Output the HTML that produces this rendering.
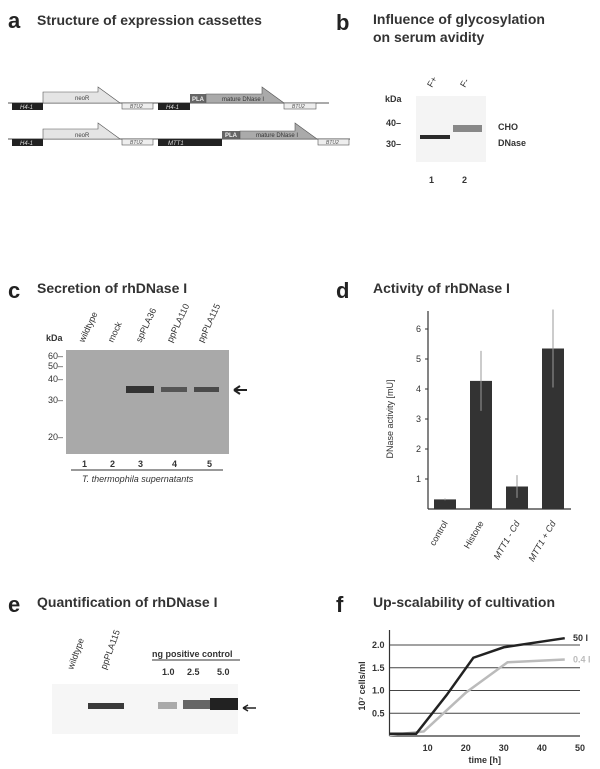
<!DOCTYPE html>
<html><head><meta charset="utf-8"><style>
body{margin:0;background:#fff}
svg{display:block;font-family:"Liberation Sans",sans-serif}
.t{font-weight:bold;font-size:14px;fill:#333}
.L{font-weight:bold;font-size:22px;fill:#222}
.s{font-size:9px;fill:#333}
.b{font-size:9px;font-weight:bold;fill:#333}
</style></head><body>
<svg width="600" height="769" viewBox="0 0 600 769">
<!-- Panel a -->
<g>
<text x="8" y="28" class="L">a</text>
<text x="37" y="25" class="t">Structure of expression cassettes</text>
<line x1="8" y1="103" x2="329" y2="103" stroke="#555"/>
<rect x="12" y="103" width="31" height="7" fill="#222"/><text x="20" y="109" fill="#ddd" font-size="6" font-style="italic">H4-1</text>
<path d="M43 103V92H98V87L120 103Z" fill="#e4e4e4" stroke="#555" stroke-width=".6"/><text x="75" y="100" font-size="6" fill="#444">neoR</text>
<rect x="122" y="103" width="31" height="6" fill="#eee" stroke="#555" stroke-width=".6"/><text x="130" y="108" font-size="5" font-style="italic" fill="#555">BTU2</text>
<rect x="158" y="103" width="32" height="7" fill="#222"/><text x="166" y="109" fill="#ddd" font-size="6" font-style="italic">H4-1</text>
<rect x="190" y="94" width="16" height="9" fill="#666"/><text x="192" y="101" font-size="6" font-weight="bold" fill="#eee">PLA</text>
<path d="M206 103V94H262V87L284 103Z" fill="#aaa" stroke="#555" stroke-width=".6"/><text x="222" y="101" font-size="6" fill="#333">mature DNase I</text>
<rect x="284" y="103" width="32" height="6" fill="#eee" stroke="#555" stroke-width=".6"/><text x="292" y="108" font-size="5" font-style="italic" fill="#555">BTU2</text>
<line x1="8" y1="139" x2="350" y2="139" stroke="#555"/>
<rect x="12" y="139" width="31" height="7" fill="#222"/><text x="20" y="145" fill="#ddd" font-size="6" font-style="italic">H4-1</text>
<path d="M43 139V129H98V123L120 139Z" fill="#e4e4e4" stroke="#555" stroke-width=".6"/><text x="75" y="137" font-size="6" fill="#444">neoR</text>
<rect x="122" y="139" width="31" height="6" fill="#eee" stroke="#555" stroke-width=".6"/><text x="130" y="144" font-size="5" font-style="italic" fill="#555">BTU2</text>
<rect x="158" y="139" width="64" height="7" fill="#222"/><text x="168" y="145" fill="#ddd" font-size="6" font-style="italic">MTT1</text>
<rect x="222" y="131" width="18" height="8" fill="#666"/><text x="225" y="137" font-size="6" font-weight="bold" fill="#eee">PLA</text>
<path d="M240 139V131H295V123L317 139Z" fill="#aaa" stroke="#555" stroke-width=".6"/><text x="256" y="137" font-size="6" fill="#333">mature DNase I</text>
<rect x="318" y="139" width="31" height="6" fill="#eee" stroke="#555" stroke-width=".6"/><text x="326" y="144" font-size="5" font-style="italic" fill="#555">BTU2</text>
</g>
<!-- Panel b -->
<g>
<text x="336" y="30" class="L">b</text>
<text x="373" y="24" class="t">Influence of glycosylation</text>
<text x="373" y="42" class="t">on serum avidity</text>
<rect x="416" y="96" width="70" height="66" fill="#f4f4f4"/>
<rect x="420" y="135" width="30" height="4" fill="#2a2a2a"/>
<rect x="453" y="125" width="29" height="7" fill="#888"/>
<text x="385" y="102" class="b">kDa</text>
<text x="386" y="126" class="b">40–</text><text x="386" y="147" class="b">30–</text>
<text x="498" y="130" class="b" font-size="10">CHO</text><text x="498" y="146" class="b" font-size="10">DNase</text>
<text x="429" y="183" class="b">1</text><text x="462" y="183" class="b">2</text>
<text transform="translate(432,88) rotate(-60)" class="s">F+</text>
<text transform="translate(465,88) rotate(-60)" class="s">F-</text>
</g>
<!-- Panel c -->
<g>
<text x="8" y="298" class="L">c</text>
<text x="37" y="293" class="t">Secretion of rhDNase I</text>
<rect x="66" y="350" width="163" height="104" fill="#a9a9a9"/>
<rect x="126" y="386" width="28" height="7" fill="#333"/>
<rect x="161" y="387" width="26" height="5" fill="#555"/>
<rect x="194" y="387" width="25" height="5" fill="#4a4a4a"/>
<text x="46" y="341" class="b">kDa</text>
<g class="s" font-size="9"><text x="48" y="359" class="s">60–</text><text x="48" y="369" class="s">50–</text><text x="48" y="382" class="s">40–</text><text x="48" y="403" class="s">30–</text><text x="48" y="440" class="s">20–</text></g>
<path d="M234 390H247M234 390L240 386M234 390L240 394" stroke="#222" stroke-width="2" fill="none"/>
<text x="82" y="467" class="b">1</text><text x="110" y="467" class="b">2</text><text x="138" y="467" class="b">3</text><text x="172" y="467" class="b">4</text><text x="207" y="467" class="b">5</text>
<line x1="71" y1="470" x2="223" y2="470" stroke="#333"/>
<text x="82" y="482" class="s" font-style="italic">T. thermophila supernatants</text>
<text transform="translate(84,343) rotate(-65)" class="s">wildtype</text>
<text transform="translate(113,343) rotate(-65)" class="s">mock</text>
<text transform="translate(141,343) rotate(-65)" class="s">spPLA36</text>
<text transform="translate(172,343) rotate(-65)" class="s">ppPLA110</text>
<text transform="translate(203,343) rotate(-65)" class="s">ppPLA115</text>
</g>
<!-- Panel d -->
<g>
<text x="336" y="298" class="L">d</text>
<text x="373" y="293" class="t">Activity of rhDNase I</text>
<g id="dchart"></g>
</g>
<!-- Panel e -->
<g>
<text x="8" y="612" class="L">e</text>
<text x="37" y="607" class="t">Quantification of rhDNase I</text>
<rect x="52" y="684" width="186" height="50" fill="#f6f6f6"/>
<rect x="88" y="703" width="36" height="6" fill="#3a3a3a"/>
<rect x="158" y="702" width="19" height="7" fill="#aaa"/>
<rect x="183" y="700" width="27" height="9" fill="#666"/>
<rect x="210" y="698" width="28" height="12" fill="#222"/>
<path d="M243 708H256M243 708L248 705M243 708L248 711" stroke="#222" stroke-width="1.5" fill="none"/>
<text x="152" y="657" class="b">ng positive control</text>
<line x1="152" y1="660" x2="240" y2="660" stroke="#333"/>
<text x="162" y="675" class="b">1.0</text><text x="187" y="675" class="b">2.5</text><text x="217" y="675" class="b">5.0</text>
<text transform="translate(73,670) rotate(-70)" class="s">wildtype</text>
<text transform="translate(106,670) rotate(-70)" class="s">ppPLA115</text>
</g>
<!-- Panel f -->
<g>
<text x="336" y="612" class="L">f</text>
<text x="373" y="607" class="t">Up-scalability of cultivation</text>
<g id="fchart"></g>
</g>
</svg>
<script>
const NS='http://www.w3.org/2000/svg';
function mk(p,tag,attrs,txt){const e=document.createElementNS(NS,tag);for(const k in attrs)e.setAttribute(k,attrs[k]);if(txt!==undefined)e.textContent=txt;p.appendChild(e);return e;}
// ---- Panel d data ----
const dCategories=['control','Histone','MTT1 - Cd','MTT1 + Cd'];
const dValues=[0.32,4.27,0.75,5.35];
const dErrors=[0.03,1.0,0.38,1.3];
const dTicks=[1,2,3,4,5,6];
const dg=document.getElementById('dchart');
const dx0=428,dy0=509,dsc=30;
function dy(v){return dy0-v*dsc;}
function dxc(i){return 445+i*36;}
const ya=mk(dg,'line',{x1:dx0,y1:dy(6.6),x2:dx0,y2:dy0,stroke:'#333','stroke-width':1.2});

const xa=mk(dg,'line',{x1:dx0,y1:dy0,x2:571,y2:dy0,stroke:'#333','stroke-width':1.2});

dTicks.forEach(t=>{mk(dg,'line',{x1:dx0-3,y1:dy(t),x2:dx0,y2:dy(t),stroke:'#333'});
const tl=mk(dg,'text',{x:dx0-7,y:dy(t)+3,'text-anchor':'end','class':'s'},t);
});
const yt=mk(dg,'text',{transform:'translate(393,'+dy(3)+') rotate(-90)','text-anchor':'middle','class':'s'},'DNase activity [mU]');

dCategories.forEach((c,i)=>{
 const b=mk(dg,'rect',{x:dxc(i)-11,y:dy(dValues[i]),width:22,height:dValues[i]*dsc,fill:'#333'});
 
 const e=mk(dg,'line',{x1:dxc(i),y1:dy(dValues[i]-dErrors[i]),x2:dxc(i),y2:dy(dValues[i]+dErrors[i]),stroke:'#999','stroke-width':1});
 
 const l=mk(dg,'text',{transform:'translate('+(dxc(i)+3)+','+(dy0+14)+') rotate(-60)','text-anchor':'end','class':'s','font-style':i>1?'italic':'normal'},c);
 
});
// ---- Panel f data ----
const fTime50=[0,7,15,22,30,46];
const fCells50=[0.05,0.05,0.9,1.72,1.95,2.15];
const fTime04=[0,9,20,29,31,46];
const fCells04=[0.02,0.1,0.95,1.5,1.62,1.68];
const fYTicks=[0.5,1.0,1.5,2.0];
const fXTicks=[10,20,30,40,50];
const fg=document.getElementById('fchart');
function fx(t){return 389.5+t*3.81;}
function fy(v){return 736-v*45.5;}
fYTicks.forEach(t=>{mk(fg,'line',{x1:fx(0),y1:fy(t),x2:fx(50),y2:fy(t),stroke:'#444','stroke-width':1});
const tl=mk(fg,'text',{x:fx(0)-5,y:fy(t)+3,'text-anchor':'end','class':'b'},t.toFixed(1));
});
fXTicks.forEach(t=>{const tl=mk(fg,'text',{x:fx(t),y:751,'text-anchor':'middle','class':'b'},t);
});
const fya=mk(fg,'line',{x1:fx(0),y1:630,x2:fx(0),y2:fy(0),stroke:'#333','stroke-width':1.2});

const fxa=mk(fg,'line',{x1:fx(0),y1:fy(0),x2:fx(50),y2:fy(0),stroke:'#333','stroke-width':1.2});

const p04=mk(fg,'polyline',{points:fTime04.map((t,i)=>fx(t)+','+fy(fCells04[i])).join(' '),fill:'none',stroke:'#bbb','stroke-width':2.5});

const p50=mk(fg,'polyline',{points:fTime50.map((t,i)=>fx(t)+','+fy(fCells50[i])).join(' '),fill:'none',stroke:'#222','stroke-width':2.5});

const l50=mk(fg,'text',{x:573,y:fy(fCells50[5])+3,'class':'b'},'50 l');

const l04=mk(fg,'text',{x:573,y:fy(fCells04[5])+3,'class':'b',fill:'#bbb',style:'fill:#bbb'},'0.4 l');

const fyt=mk(fg,'text',{transform:'translate(365,'+fy(1.1)+') rotate(-90)','text-anchor':'middle','class':'b'},'10⁷ cells/ml');

const fxt=mk(fg,'text',{x:fx(25),y:763,'text-anchor':'middle','class':'b'},'time [h]');

</script>
</body></html>
